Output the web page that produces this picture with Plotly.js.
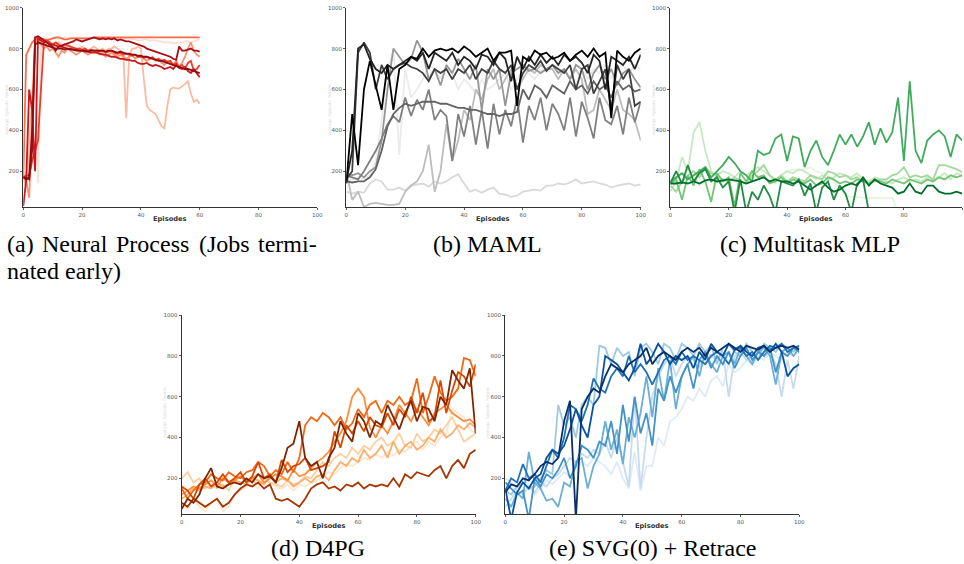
<!DOCTYPE html>
<html>
<head>
<meta charset="utf-8">
<script src="https://cdn.plot.ly/plotly-3.0.1.min.js"></script>
<style>html,body{margin:0;padding:0;background:#fff;}#chart{width:964px;height:564px;}</style>
</head>
<body>
<div id="chart"></div>
<script>
// ---------------- DATA ----------------
const xTicks = [0, 20, 40, 60, 80, 100];
const yTicks = [200, 400, 600, 800, 1000];

// Episodes for panel (a): 0..60
const xA = [0,1,2,3,4,5,6,7,8,9,10,11,12,13,14,15,16,17,18,19,20,21,22,23,24,25,26,27,28,29,30,
            31,32,33,34,35,36,37,38,39,40,41,42,43,44,45,46,47,48,49,50,51,52,53,54,55,56,57,58,59,60];
// Episodes for panels (b)-(e)
const xB = [0,2,4,6,8,10,12,14,16,18,20,22,24,26,28,30,32,34,36,38,40,42,44,46,48,50,
            52,54,56,58,60,62,64,66,68,70,72,74,76,78,80,82,84,86,88,90,92,94,96,98,100];

// (a) Neural Process
const np1 = [170,200,450,300,800,140,830,850,850,845, 850,850,845,850,855,855,850,850,855,855, 850,850,855,850,855,850,845,850,850,855, 850,845,850,850,845,850,850,845,845,840, 840,845,845,840,840,840,835,835,830,830, 830,825,825,830,830,835,835,830,835,840, 845];
const np2 = [170,120,300,600,830,840,820,830,840,830, 820,810,830,820,800,820,810,800,790,800, 810,800,790,800,810,800,790,800,790,800, 800,810,800,790,780,460,760,800,800,810, 800,650,520,500,490,480,450,420,410,520, 600,610,605,605,615,630,640,580,540,550, 530];
const np3 = [170,150,70,400,830,860,820,800,810,790, 800,780,760,790,780,800,790,780,770,780, 790,780,770,780,790,780,770,780,760,770, 780,770,760,770,760,750,760,770,750,760, 760,750,740,750,760,740,750,730,720,740, 730,720,740,710,730,760,800,830,790,770, 760];
const np4 = [170,770,800,830,845,850,850,845,840,845, 850,855,855,850,845,845,850,850,850,850, 850,850,850,850,855,855,855,855,855,855, 855,855,855,855,855,855,855,855,855,855, 855,855,855,855,855,855,855,855,855,855, 855,855,855,855,855,855,855,855,855,855, 855];
const np5 = [170,180,180,250,300,350,600,830,840,830, 820,830,820,810,820,815,810,805,800,800, 795,800,790,795,790,790,785,790,780,785, 790,780,775,780,770,775,770,765,770,760, 760,755,760,750,755,745,750,740,745,735, 740,720,730,710,720,700,730,740,690,700, 720];
const np6 = [30,160,600,500,200,850,840,830,830,820, 820,815,810,810,805,800,800,795,795,790, 790,785,785,780,780,780,775,770,770,765, 760,760,755,750,750,745,745,740,740,730, 725,725,730,720,715,720,715,710,700,705, 710,700,720,705,700,710,690,680,700,680, 660];
const np7 = [170,170,160,300,855,860,850,840,830,820, 810,790,810,815,820,825,830,835,845,840, 835,840,845,850,855,850,845,850,845,850, 845,850,840,845,840,835,835,830,825,820, 815,810,800,795,790,785,780,775,770,765, 760,750,745,810,790,790,795,800,790,790, 785];
const np8 = [170,160,170,400,820,830,825,820,815,810, 805,800,800,800,795,800,795,795,790,790, 790,790,785,790,790,790,790,790,785,790, 790,785,780,785,780,775,775,770,770,765, 765,760,760,755,750,745,740,740,735,730, 725,720,715,710,705,700,700,695,690,685, 680];

// (b) MAML
const maml1 = [100,90,100,95,140,160,150,110,110,120, 105,130,135,140,125,150,140,150,170,185, 140,100,110,95,110,120,90,85,75,80, 100,105,110,105,130,130,140,135,145,160, 140,145,150,140,135,120,130,135,140,130, 135];
const maml2 = [200,60,100,25,40,45,40,35,35,40, 100,130,150,200,330,100,200,430,250,350, 500,450,600,550,650,700,600,650,700,600, 650,700,680,720,700,700,650,700,650,700, 650,480,500,600,550,500,600,500,480,450, 350];
const maml3 = [150,160,170,160,180,250,450,700,790,280, 700,560,600,650,720,700,650,720,680,600, 650,620,580,650,600,620,650,680,600,650, 700,680,650,690,700,720,680,700,650,720, 700,650,700,680,720,650,700,720,680,720, 700];
const maml4 = [190,180,190,170,200,220,350,600,800,760, 720,750,840,780,650,700,620,720,680,750, 700,650,720,500,700,650,700,520,680,700, 720,690,700,680,700,720,680,700,650,720, 700,600,680,720,650,700,620,680,700,650, 610];
const maml5 = [180,170,160,200,250,300,360,430,470,440, 560,470,550,500,600,450,500,470,250,480, 370,520,330,500,310,530,380,500,420,560, 340,520,450,560,400,530,480,400,560,370, 540,460,360,560,450,430,520,380,560,440, 540];
const maml6 = [150,145,150,150,170,210,300,420,480,510, 530,520,530,540,540,540,530,530,520,510, 510,500,500,490,480,480,470,480,480,490, 600,550,620,600,560,620,600,580,640,600, 620,580,640,600,620,560,640,600,620,590, 600];
const maml7 = [160,200,780,830,780,600,720,650,700,720, 730,710,700,680,640,700,680,700,650,700, 680,720,650,700,680,740,700,680,720,600, 680,720,700,740,690,720,700,680,720,600, 700,720,580,640,700,500,720,650,700,520, 540];
const maml8 = [150,300,800,820,750,700,680,720,700,720, 740,760,740,780,700,780,760,740,780,720, 760,740,700,770,760,720,780,750,640,760, 700,760,720,770,730,760,720,770,740,760, 730,680,770,740,600,760,740,720,760,700, 770];
const maml9 = [140,480,230,600,740,620,500,720,500,700, 720,760,750,800,760,790,800,790,800,780, 810,790,760,780,800,740,780,780,790,520, 760,740,790,770,780,750,760,780,740,770, 790,760,800,760,780,460,790,760,740,780, 800];

// (c) Multitask MLP
const mlp1 = [150,160,150,200,170,130,150,160,140,150, 170,150,130,160,170,180,170,150,140,180, 200,210,205,210,220,200,190,180,150,120, 80,75,75,70,70,70,70,70,70,0, null,null,null,null,null,null,null,null,null,null, null];
const mlp2 = [100,150,270,200,390,440,300,200,180,200, 190,170,200,180,200,220,200,180,150,180, 200,190,210,200,180,160,180,160,170,190, 180,170,190,160,150,170,160,150,140,160, 170,150,160,150,170,160,170,190,160,190, 180];
const mlp3 = [130,100,150,180,200,170,220,190,180,160, 150,170,150,140,180,200,230,180,160,180, 150,170,160,150,180,170,160,200,190,170, 180,160,170,150,140,150,160,160,180,190, 220,170,180,170,180,160,230,230,220,210, 195];
const mlp4 = [140,160,60,180,130,210,150,50,190,150, 170,30,190,150,200,170,180,140,150,170, 140,160,150,140,160,130,140,170,160,140, 150,140,160,150,140,160,150,140,160,150, 140,160,150,140,160,150,170,160,180,170, 180];
const mlp5 = [150,170,190,160,180,200,220,170,200,230, 270,240,200,180,150,300,280,290,360,380, 250,370,360,220,300,350,270,230,300,380, 330,380,320,370,440,330,410,340,390,560, 250,640,300,240,350,380,400,370,270,380, 350];
const mlp6 = [140,200,140,230,150,190,210,150,170,120, 150,0,160,0,100,60,130,80,0,150, 140,130,160,80,140,0,120,150,60,130, 90,0,140,160,0,null,null,null,null,null, null,null,null,null,null,null,null,null,null,null, null];
const mlp7 = [140,140,145,140,150,140,155,160,150,155, 160,155,150,140,150,160,170,150,160,150, 150,140,150,130,110,130,150,120,100,110, 130,140,130,170,130,160,140,130,120,90, 100,140,100,90,130,130,100,90,90,100, 90];

// (d) D4PG
const d4pg1 = [80,50,100,60,40,80,100,40,60,120, 140,160,170,150,200,180,160,150,170,140, 170,160,180,190,210,230,220,250,270,260, 280,300,290,320,300,330,310,340,330,360, 380,340,380,360,400,420,540,520,500,440, 420];
const d4pg2 = [200,230,180,200,150,170,150,170,140,200, 210,180,190,170,200,180,170,160,190,170, 180,210,200,240,280,260,300,320,300,350, 320,360,340,380,400,360,380,420,360,350, 420,380,400,440,420,460,500,440,380,400, 420];
const d4pg3 = [100,120,150,140,160,150,180,160,170,190, 180,170,200,190,170,210,180,200,190,160, 180,200,180,210,220,190,240,280,260,300, 280,340,300,320,360,300,380,320,360,380, 340,360,400,380,440,400,420,460,440,470, 450];
const d4pg4 = [120,140,160,150,170,190,160,200,180,190, 210,190,200,220,180,200,220,210,190,240, 210,220,250,280,300,330,380,420,480,600, 640,600,450,400,460,420,480,560,520,480, 540,500,460,520,540,560,520,500,480,490, 460];
const d4pg5 = [150,100,140,170,180,220,200,190,230,210, 200,230,240,280,260,210,240,220,280,230, 300,460,500,480,520,500,460,500,440,470, 540,500,560,580,520,580,560,600,560,580, 690,520,600,700,620,580,600,640,790,780, 700];
const d4pg6 = [160,140,100,170,200,160,180,220,180,200, 230,180,210,280,200,220,180,290,230,260, 270,300,240,250,260,280,430,350,460,420, 480,430,500,460,450,520,460,540,500,600, 520,620,480,500,680,520,630,720,700,650, 760];
const d4pg7 = [80,60,100,80,60,80,100,60,80,120, 150,170,160,180,150,170,100,90,100,80, 60,100,150,170,180,150,160,140,170,160, 180,150,170,160,170,160,200,160,220,200, 230,220,210,240,260,200,260,290,250,320, 340];
const d4pg8 = [50,100,80,120,200,250,160,150,170,180, 170,200,180,220,200,210,180,250,350,370, 480,300,260,280,200,300,350,480,420,380, 520,480,400,480,460,560,500,440,520,580, 480,550,540,480,600,560,730,680,640,740, 420];

// (e) SVG(0) + Retrace
const svg1 = [200,180,150,200,170,120,150,190,170,200, 230,210,250,280,260,300,280,260,220,280, 200,150,330,140,260,260,400,360,480,500, 540,600,580,640,600,680,700,650,760,720, 740,780,760,800,780,820,800,780,820,800, 820];
const svg2 = [60,100,140,120,160,130,180,160,200,220, 260,300,280,320,300,340,320,380,300,400, 280,160,600,150,400,600,700,760,800,700, 760,800,780,740,820,800,780,820,600,800, 820,780,800,840,800,820,760,600,780,640, 800];
const svg3 = [140,120,160,180,150,160,200,240,220,560, 460,500,400,560,600,560,850,840,760,840, 800,820,700,840,860,820,760,860,840,780, 860,840,800,860,820,850,760,840,860,820, 800,860,820,780,860,840,820,860,840,820, 850];
const svg4 = [100,60,130,100,330,180,150,90,100,60, 180,160,280,300,150,260,320,480,340,440, 270,500,400,520,700,500,740,580,780,540, 700,760,800,700,820,760,720,800,820,760, 840,800,760,820,840,800,660,820,840,800, 840];
const svg5 = [180,150,120,140,0,200,160,220,200,240, 300,200,260,360,340,300,380,360,480,320, 560,380,600,420,520,360,640,580,700,620, 700,760,640,780,820,740,800,760,820,740, 800,840,780,820,800,840,720,820,800,840, 820];
const svg6 = [140,200,180,270,200,220,180,260,340,300, 400,560,540,480,560,690,640,620,700,740, 700,800,720,760,720,660,720,780,800,760, 820,780,800,780,760,800,820,800,760,830, 840,800,820,780,820,850,840,860,820,840, 850];
const svg7 = [150,0,130,180,150,200,220,300,340,320, 360,440,540,460,400,560,600,800,780,760, 720,680,740,860,760,800,860,820,760,800, 780,800,740,820,780,860,820,800,860,830, 850,820,800,840,850,820,860,820,700,740, 760];
const svg8 = [130,170,160,200,190,220,260,280,270,300, 480,580,0,540,600,640,620,700,760,740, 720,760,780,800,840,760,800,820,800,780, 820,840,820,840,800,840,820,840,860,840, 820,850,840,830,850,820,840,850,840,850, 830];

const captions = ["(b) MAML", "(c) Multitask MLP", "(d) D4PG", "(e) SVG(0) + Retrace"];
const captionA = ["(a)", "Neural", "Process", "(Jobs", "termi-"];
const captionA2 = "nated early)";

// ---------------- BUILD ----------------
const W = 964, H = 564;
const px = v => v / W;
const py = v => 1 - v / H;

const panels = [
  {ax: 'x',  ay: 'y',  x: xA, s: [[np1,'#fee0d2'],[np2,'#fcbba1'],[np3,'#fc9272'],[np4,'#fb6a4a'],[np5,'#ef3b2c'],[np6,'#cb181d'],[np7,'#a50f15'],[np8,'#8e0b11']]},
  {ax: 'x2', ay: 'y2', x: xB, s: [[maml3,'#ebebeb'],[maml1,'#d9d9d9'],[maml2,'#bdbdbd'],[maml4,'#969696'],[maml5,'#808080'],[maml6,'#636363'],[maml7,'#404040'],[maml8,'#252525'],[maml9,'#000000']]},
  {ax: 'x3', ay: 'y3', x: xB, s: [[mlp1,'#e5f5e0'],[mlp2,'#c7e9c0'],[mlp3,'#a1d99b'],[mlp4,'#74c476'],[mlp5,'#41ab5d'],[mlp6,'#238b45'],[mlp7,'#006d2c']]},
  {ax: 'x4', ay: 'y4', x: xB, s: [[d4pg1,'#fee6ce'],[d4pg2,'#fdd0a2'],[d4pg3,'#fdae6b'],[d4pg4,'#fd8d3c'],[d4pg5,'#f16913'],[d4pg6,'#d94801'],[d4pg7,'#a63603'],[d4pg8,'#7f2704']]},
  {ax: 'x5', ay: 'y5', x: xB, s: [[svg1,'#deebf7'],[svg2,'#c6dbef'],[svg3,'#9ecae1'],[svg4,'#6baed6'],[svg5,'#4292c6'],[svg6,'#2171b5'],[svg7,'#08519c'],[svg8,'#08306b']]}
];

const traces = [];
panels.forEach(p => {
  p.s.forEach(([vals, col]) => {
    traces.push({type: 'scatter', mode: 'lines', x: p.x, y: vals, xaxis: p.ax, yaxis: p.ay,
      line: {color: col, width: 1.8}, connectgaps: false, hoverinfo: 'skip', showlegend: false});
  });
});

const tickFont = {family: 'DejaVu Sans', size: 5.5, color: '#555'};
function xa(l, r, anchor) {
  return {domain: [px(l), px(r)], anchor: anchor, range: [0, 100], tickvals: xTicks, ticktext: xTicks.map(String),
    showline: true, linecolor: '#333', linewidth: 1.2, ticks: 'outside', ticklen: 2, tickwidth: 0.8, tickcolor: '#333',
    tickfont: tickFont, showgrid: false, zeroline: false, fixedrange: true};
}
function ya(t, b, anchor) {
  return {domain: [py(b), py(t)], anchor: anchor, range: [25, 1000], tickvals: yTicks, ticktext: yTicks.map(String),
    showline: true, linecolor: '#333', linewidth: 1.2, ticks: 'outside', ticklen: 2, tickwidth: 0.8, tickcolor: '#333',
    tickfont: tickFont, showgrid: false, zeroline: false, fixedrange: true};
}

const ann = [];
const capFont = {family: 'Liberation Serif', size: 24, color: '#000'};
const epFont = {family: 'DejaVu Sans', size: 6.7, color: '#333', weight: 'bold'};
const ytFont = {family: 'DejaVu Sans', size: 4, color: '#d6d6d6'};
function addText(text, x, y, font, xanchor, extra) {
  ann.push(Object.assign({text: text, x: px(x), y: py(y), xref: 'paper', yref: 'paper', showarrow: false,
    xanchor: xanchor || 'center', yanchor: 'middle', font: font}, extra || {}));
}
// "Episodes" axis labels
[[170.3, 219], [493.5, 219], [816.3, 219], [328.7, 526], [652.3, 526]].forEach(([x, y]) =>
  addText('<b>Episodes</b>', x, y, epFont));
// faint y-axis titles
[[6, 110], [329, 110], [653, 110], [164, 413], [487, 413]].forEach(([x, y]) =>
  addText('Average  Episode  Return', x, y, ytFont, 'center', {textangle: -90}));
// captions (first line of (a) is justified word by word)
const capAx = [4.7, 40.2, 114.4, 196.6, 256.2];
captionA.forEach((w, i) => addText(w, capAx[i], 244, capFont, 'left'));
addText(captionA2, 5, 271, capFont, 'left');
addText(captions[0], 487, 244, capFont);
addText(captions[1], 810, 244, capFont);
addText(captions[2], 318, 548, capFont);
addText(captions[3], 652, 548, capFont);

const layout = {
  width: W, height: H, margin: {l: 0, r: 0, t: 0, b: 0}, autosize: false,
  paper_bgcolor: '#fff', plot_bgcolor: '#fff', showlegend: false,
  xaxis: xa(23.3, 317.3, 'y'),   yaxis: ya(7.7, 207, 'x'),
  xaxis2: xa(346.3, 640.7, 'y2'), yaxis2: ya(7.7, 207, 'x2'),
  xaxis3: xa(670.3, 962.3, 'y3'), yaxis3: ya(7.7, 207, 'x3'),
  xaxis4: xa(181.7, 475.7, 'y4'), yaxis4: ya(315.2, 514, 'x4'),
  xaxis5: xa(505.3, 799.3, 'y5'), yaxis5: ya(315.2, 514, 'x5'),
  annotations: ann
};

Plotly.newPlot('chart', traces, layout, {staticPlot: true, displayModeBar: false});
</script>
</body>
</html>
